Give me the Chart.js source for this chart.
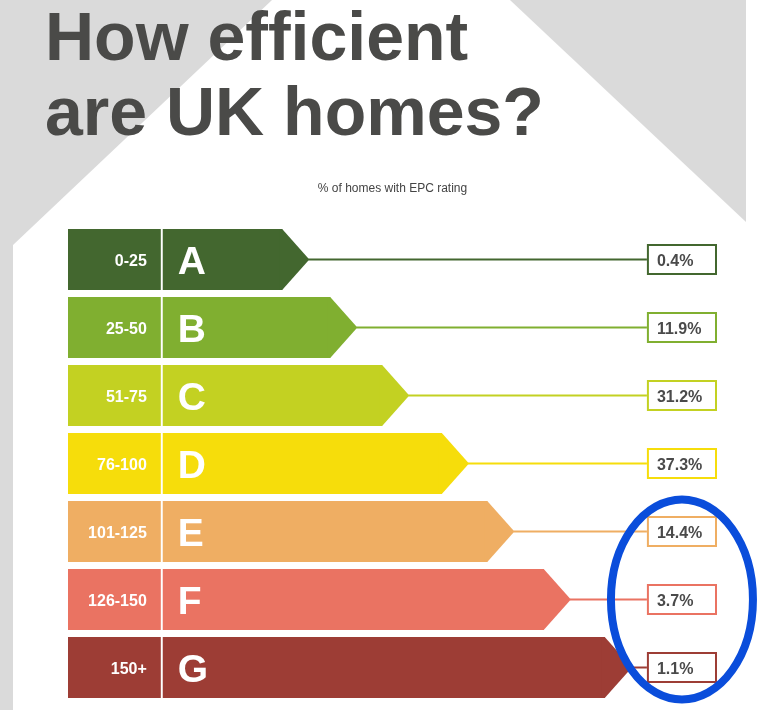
<!DOCTYPE html>
<html>
<head>
<meta charset="utf-8">
<title>How efficient are UK homes?</title>
<script src="https://cdn.jsdelivr.net/npm/chart.js@4.4.1/dist/chart.umd.min.js"></script>
<style>
  html, body { margin: 0; padding: 0; background: #fff; }
  #wrap { position: relative; width: 758px; height: 710px; }
</style>
</head>
<body>
<div id="wrap"><canvas id="epc"></canvas></div>
<script>
// EPC bands, best at the top
var ratings = ['A', 'B', 'C', 'D', 'E', 'F', 'G'];
var sapRanges = ['0-25', '25-50', '51-75', '76-100', '101-125', '126-150', '150+'];
// % of homes with each rating
var shares = [0.4, 11.9, 31.2, 37.3, 14.4, 3.7, 1.1];
// where each coloured band ends on the 0-100 label scale (the EPC staircase)
var bandEnds = [33.0, 40.4, 48.4, 57.6, 64.6, 73.3, 82.7];
var rangeEnd = 14.3;
var bandStart = 14.6;
var valueColumn = [89.2, 100];
// ratings ringed in blue
var circled = ['E', 'F', 'G'];

var colours = ['#43672f', '#80af30', '#c3d122', '#f6dd0b', '#efae63', '#ea7362', '#9d3d35'];
var FONT = "'Liberation Sans', Arial, sans-serif";

var housePlugin = {
    id: 'house',
    beforeDraw: function (chart) {
        var ctx = chart.ctx, w = chart.width, h = chart.height;
        ctx.save();
        ctx.fillStyle = '#fff';
        ctx.fillRect(0, 0, w, h);
        ctx.fillStyle = '#dadada';
        // roof + left wall
        ctx.beginPath();
        ctx.moveTo(0, 0);
        ctx.lineTo(272, 0);
        ctx.lineTo(13, 245);
        ctx.lineTo(13, h);
        ctx.lineTo(0, h);
        ctx.closePath();
        ctx.fill();
        // right side of the roof
        ctx.beginPath();
        ctx.moveTo(510, 0);
        ctx.lineTo(746, 0);
        ctx.lineTo(746, 222);
        ctx.closePath();
        ctx.fill();
        ctx.restore();
    }
};

var labelPlugin = {
    id: 'epcLabels',
    afterDatasetsDraw: function (chart) {
        var ctx = chart.ctx;
        var xs = chart.scales.x;
        var rangeBars = chart.getDatasetMeta(0).data;
        var bands = chart.getDatasetMeta(1).data;
        var boxLeft = xs.getPixelForValue(valueColumn[0]);
        var boxRight = xs.getPixelForValue(valueColumn[1]);
        ctx.save();
        bands.forEach(function (bar, i) {
            var p = bar.getProps(['x', 'y', 'base', 'height'], true);
            var half = p.height / 2;
            var tip = p.x + half * 0.89;
            var col = colours[i];

            // arrow head (overlaps the bar a little so no seam shows)
            ctx.fillStyle = col;
            ctx.beginPath();
            ctx.moveTo(p.x - 3, p.y - half);
            ctx.lineTo(p.x, p.y - half);
            ctx.lineTo(tip, p.y);
            ctx.lineTo(p.x, p.y + half);
            ctx.lineTo(p.x - 3, p.y + half);
            ctx.closePath();
            ctx.fill();

            // leader line to the value box
            ctx.strokeStyle = col;
            ctx.lineWidth = 2;
            ctx.beginPath();
            ctx.moveTo(tip - 1, p.y);
            ctx.lineTo(boxLeft, p.y);
            ctx.stroke();

            ctx.fillStyle = '#fff';
            ctx.fillRect(boxLeft + 1, p.y - 14.5, boxRight - boxLeft - 2, 29);
            ctx.strokeRect(boxLeft + 1, p.y - 14.5, boxRight - boxLeft - 2, 29);

            ctx.font = 'bold 16px ' + FONT;
            ctx.textBaseline = 'alphabetic';
            ctx.textAlign = 'left';
            ctx.fillStyle = '#4a4a4a';
            ctx.fillText(shares[i].toFixed(1) + '%', boxLeft + 10, p.y + 6.5);

            // SAP points range
            var r = rangeBars[i].getProps(['x'], true);
            ctx.fillStyle = '#fff';
            ctx.textAlign = 'right';
            ctx.fillText(sapRanges[i], r.x - 14, p.y + 6.5);

            // rating letter
            ctx.font = 'bold 39px ' + FONT;
            ctx.textAlign = 'left';
            ctx.fillText(ratings[i], p.base + 15, p.y + 14);
        });
        ctx.restore();
    }
};

var ringPlugin = {
    id: 'ring',
    afterDraw: function (chart) {
        var ctx = chart.ctx;
        var xs = chart.scales.x, ys = chart.scales.y;
        var idx = circled.map(function (r) { return ratings.indexOf(r); });
        var top = ys.getPixelForValue(Math.min.apply(null, idx));
        var bottom = ys.getPixelForValue(Math.max.apply(null, idx));
        var cx = (xs.getPixelForValue(valueColumn[0]) + xs.getPixelForValue(valueColumn[1])) / 2;
        var cy = (top + bottom) / 2;
        ctx.save();
        ctx.strokeStyle = '#0a4ddb';
        ctx.lineWidth = 8;
        ctx.beginPath();
        ctx.ellipse(cx, cy, 71, (bottom - top) / 2 + 32, 0, 0, Math.PI * 2);
        ctx.stroke();
        ctx.restore();
    }
};

new Chart(document.getElementById('epc'), {
    type: 'bar',
    data: {
        labels: ratings,
        datasets: [{
            label: 'SAP points',
            data: ratings.map(function () { return [0, rangeEnd]; }),
            backgroundColor: colours,
            grouped: false,
            barPercentage: 0.897,
            categoryPercentage: 1
        }, {
            label: 'Rating',
            data: bandEnds.map(function (v) { return [bandStart, v]; }),
            backgroundColor: colours,
            grouped: false,
            barPercentage: 0.897,
            categoryPercentage: 1
        }]
    },
    options: {
        indexAxis: 'y',
        responsive: true,
        maintainAspectRatio: false,
        animation: false,
        layout: {
            padding: { left: 45, right: 41, top: 0, bottom: 8.5 }
        },
        scales: {
            x: { type: 'linear', min: 0, max: 100, display: false },
            y: {
                display: true,
                ticks: { display: false },
                grid: { display: false },
                border: { display: false },
                afterFit: function (s) { s.width = 23; }
            }
        },
        plugins: {
            legend: { display: false },
            tooltip: { enabled: false },
            title: {
                display: true,
                text: ['How efficient', 'are UK homes?'],
                align: 'start',
                color: '#4a4a48',
                font: { family: FONT, size: 68, weight: 'bold', lineHeight: 75 / 68 },
                padding: { top: 4, bottom: 0 }
            },
            subtitle: {
                display: true,
                text: '% of homes with EPC rating',
                fullSize: false,
                color: '#444',
                font: { family: FONT, size: 12, weight: 'normal', lineHeight: 1.2 },
                padding: { top: 27.8, bottom: 29.3 }
            }
        }
    },
    plugins: [housePlugin, labelPlugin, ringPlugin]
});
</script>
</body>
</html>
